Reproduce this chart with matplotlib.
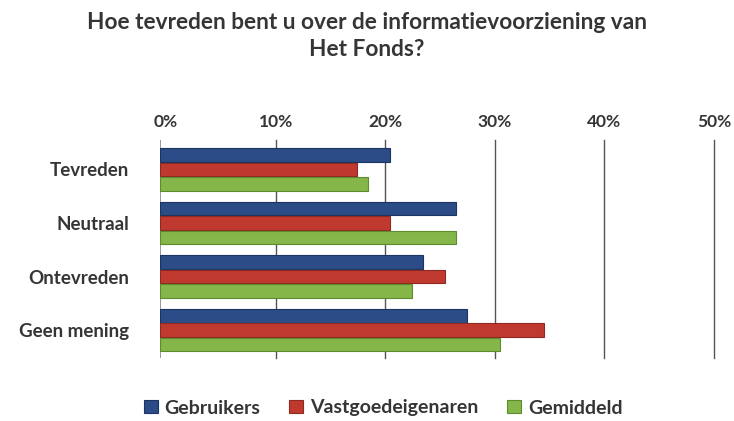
import matplotlib
matplotlib.use("Agg")
import matplotlib.pyplot as plt
import matplotlib.transforms as mtransforms
import numpy as np

categories = ["Tevreden", "Neutraal", "Ontevreden", "Geen mening"]
series_names = ["Gebruikers", "Vastgoedeigenaren", "Gemiddeld"]
gebruikers = [21, 27, 24, 28]
vastgoed = [18, 21, 26, 35]
gemiddeld = [19, 27, 23, 31]
tick_values = [0, 10, 20, 30, 40, 50]
tick_labels = ["0%", "10%", "20%", "30%", "40%", "50%"]
title = "Hoe tevreden bent u over de informatievoorziening van\nHet Fonds?"

colors = ["#2b4c86", "#c0392f", "#84b64a"]
edge = ["#1c3461", "#8e2a22", "#5e8a30"]

plt.rcParams['font.family'] = ['Lato', 'DejaVu Sans']
W = 'bold'
txtc = '#353535'
fig = plt.figure(figsize=(7.34, 4.21), dpi=100)
ax = fig.add_axes([160/734, 1-358/421, (708-160)/734, (358-140)/421])

y = np.arange(len(categories))
h = 0.27
for i, vals in enumerate([gebruikers, vastgoed, gemiddeld]):
    ax.barh(y + (i-1)*h, vals, height=h*0.95, color=colors[i],
            edgecolor=edge[i], linewidth=0.8, label=series_names[i], zorder=3)

ax.set_xlim(0, 50)
ax.set_ylim(len(categories)-0.5+0.02, -0.55)
ax.xaxis.tick_top()
ax.set_xticks(tick_values)
ax.set_xticklabels(tick_labels, fontsize=12.5, fontweight=W, color=txtc)
ax.tick_params(axis='x', length=0, pad=7)
shift = mtransforms.ScaledTranslation(6/100, 0, fig.dpi_scale_trans)
for lbl in ax.get_xticklabels():
    lbl.set_transform(lbl.get_transform() + shift)
ax.set_yticks(y)
ax.set_yticklabels(categories, fontsize=13.5, fontweight=W, color=txtc)
ax.tick_params(axis='y', length=0, pad=22)
for s in ax.spines.values():
    s.set_visible(False)
for v in tick_values[1:]:
    ln = ax.axvline(v, ymin=0.0, ymax=1.0, color='#555555', linewidth=1.0, zorder=1, clip_on=False)
    ln.set_transform(ln.get_transform() + shift)
ax.axvline(0, color='#999999', linewidth=1.4, zorder=1)

fig.suptitle(title, fontsize=16.3, fontweight=W, color=txtc, y=0.972, linespacing=1.35)

handles, labels = ax.get_legend_handles_labels()
leg = fig.legend(handles, labels, loc='center', bbox_to_anchor=(0.522, 1-408/421),
                 ncol=3, frameon=False, fontsize=14, handlelength=0.7,
                 handleheight=0.6, columnspacing=1.5, handletextpad=0.35)
for t in leg.get_texts():
    t.set_fontweight(W)
    t.set_color(txtc)

fig.savefig("out.png", dpi=100)
